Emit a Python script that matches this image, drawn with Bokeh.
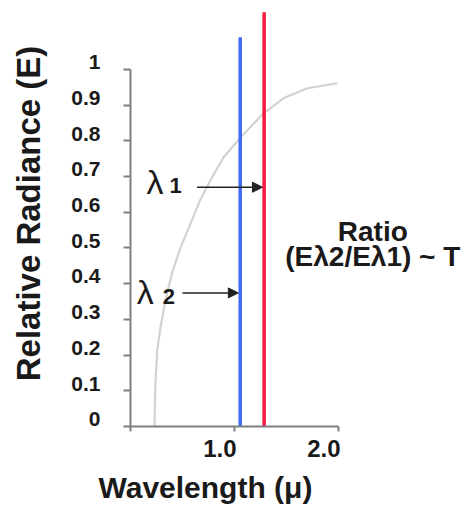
from bokeh.plotting import figure
from bokeh.models import (Range1d, LinearAxis, FixedTicker, Label, Arrow, NormalHead,
                          ColumnDataSource, Title)
from bokeh.embed import file_html
from bokeh.resources import INLINE

# ---- data ----
curve_x = [0.23, 0.24, 0.257, 0.29, 0.337, 0.40, 0.48, 0.58, 0.67, 0.77, 0.895, 1.06, 1.28, 1.47, 1.70, 1.99]
curve_y = [0.00, 0.123, 0.215, 0.28, 0.355, 0.43, 0.50, 0.57, 0.634, 0.69, 0.754, 0.81, 0.877, 0.919, 0.947, 0.961]

line_x = [1.055, 1.285]         # lambda2 (blue), lambda1 (red)
line_top = [1.09, 1.16]
line_colors = ["#3d6bf5", "#f5173d"]

y_ticks = [0, 0.1, 0.2, 0.3, 0.4, 0.5, 0.6, 0.7, 0.8, 0.9, 1]
y_tick_labels = ["0", "0.1", "0.2", "0.3", "0.4", "0.5", "0.6", "0.7", "0.8", "0.9", "1"]
x_ticks = [0, 1, 2]
x_label_ticks = [1, 2]
x_tick_labels = ["1.0", "2.0"]

arrow_y = [0.67, 0.374]         # lambda1, lambda2 arrow heights
arrow_x0 = [0.64, 0.50]

FONT = "Liberation Sans"
TXT = "#1a1a1a"
AX = "#7f7f7f"
Y_LABEL_SHIFT = 0.02     # labels sit just above their ticks
X_LABEL_SHIFT = -0.14    # labels sit just left of their ticks

p = figure(width=474, height=513, output_backend="svg", toolbar_location=None,
           x_range=Range1d(0, 3.308), y_range=Range1d(0, 1.1927),
           x_axis_type=None, y_axis_type=None,
           min_border_left=130, min_border_right=0, min_border_top=0, min_border_bottom=86)
p.outline_line_color = None
p.xgrid.visible = False
p.ygrid.visible = False
p.background_fill_color = "white"
p.border_fill_color = "white"


def tick_axis(bounds, ticks, tick_out):
    ax = LinearAxis(bounds=bounds, ticker=FixedTicker(ticks=ticks))
    ax.major_label_overrides = {t: "" for t in ticks}
    ax.major_label_text_font_size = "0px"
    ax.major_label_standoff = 0
    ax.axis_line_color = AX
    ax.axis_line_width = 2
    ax.major_tick_line_color = AX
    ax.major_tick_line_width = 2
    ax.major_tick_in = 0
    ax.major_tick_out = tick_out
    ax.minor_tick_line_color = None
    return ax


def label_axis(ticks, labels, size, standoff):
    ax = LinearAxis(ticker=FixedTicker(ticks=ticks))
    ax.major_label_overrides = {t: l for t, l in zip(ticks, labels)}
    ax.axis_line_color = None
    ax.major_tick_line_color = None
    ax.minor_tick_line_color = None
    ax.major_tick_in = 0
    ax.major_tick_out = 0
    ax.major_label_standoff = standoff
    ax.major_label_text_font = FONT
    ax.major_label_text_font_style = "bold"
    ax.major_label_text_font_size = size
    ax.major_label_text_color = TXT
    return ax


# y axis: ticks, then labels placed just above each tick
yax_t = tick_axis((0, 1), y_ticks, 7)
y_pos = [t + Y_LABEL_SHIFT for t in y_ticks]
yax_l = label_axis(y_pos, y_tick_labels, "21px", 23)
yax_l.axis_label = "Relative Radiance (E)"
yax_l.axis_label_text_font = FONT
yax_l.axis_label_text_font_style = "bold"
yax_l.axis_label_text_font_size = "33px"
yax_l.axis_label_text_color = TXT
yax_l.axis_label_standoff = 21
p.add_layout(yax_t, "left")
p.add_layout(yax_l, "left")

# x axis
xax_t = tick_axis((0, 2), x_ticks, 5)
x_pos = [t + X_LABEL_SHIFT for t in x_label_ticks]
xax_l = label_axis(x_pos, x_tick_labels, "24px", 8)
p.add_layout(xax_t, "below")
p.add_layout(xax_l, "below")
p.add_layout(Title(text="Wavelength (\u03bc)", align="left", offset=-32, standoff=19,
                   text_font=FONT, text_font_size="30px", text_font_style="bold",
                   text_line_height=0.9, text_color=TXT), "below")

# curve
p.line(curve_x, curve_y, line_color="#d2d2d2", line_width=2.2)

# vertical wavelength lines
src = ColumnDataSource(dict(x=line_x, top=line_top, bottom=[0, 0], color=line_colors))
p.segment(x0="x", y0="bottom", x1="x", y1="top", color="color", line_width=3.5, source=src)

# arrows: lambda1 -> red line, lambda2 -> blue line
ends = [line_x[1] - 0.016, line_x[0] - 0.018]
for x0, x1, y in zip(arrow_x0, ends, arrow_y):
    p.add_layout(Arrow(end=NormalHead(size=10, fill_color="#222222", line_color="#222222"),
                       x_start=x0, y_start=y, x_end=x1, y_end=y,
                       line_color="#222222", line_width=1.5))

# lambda labels
for (xl, yl, xs, ys, sub) in [(0.155, 0.684, 0.375, 0.676, "1"), (0.06, 0.377, 0.31, 0.363, "2")]:
    p.add_layout(Label(x=xl, y=yl, text="\u03bb", text_font=FONT, text_font_size="34px",
                       text_color=TXT, text_baseline="alphabetic"))
    p.add_layout(Label(x=xs, y=ys, text=sub, text_font=FONT, text_font_size="22px",
                       text_font_style="bold", text_color=TXT, text_baseline="alphabetic"))

# ratio annotation
p.add_layout(Label(x=2.33, y=0.545, text="Ratio", text_font=FONT, text_font_size="28px",
                   text_font_style="bold", text_align="center", text_baseline="alphabetic",
                   text_color=TXT))
p.add_layout(Label(x=2.33, y=0.475, text="(E\u03bb2/E\u03bb1) ~ T", text_font=FONT,
                   text_font_size="28px", text_font_style="bold", text_align="center",
                   text_baseline="alphabetic", text_color=TXT))

open("out.html", "w").write(file_html(p, INLINE))
